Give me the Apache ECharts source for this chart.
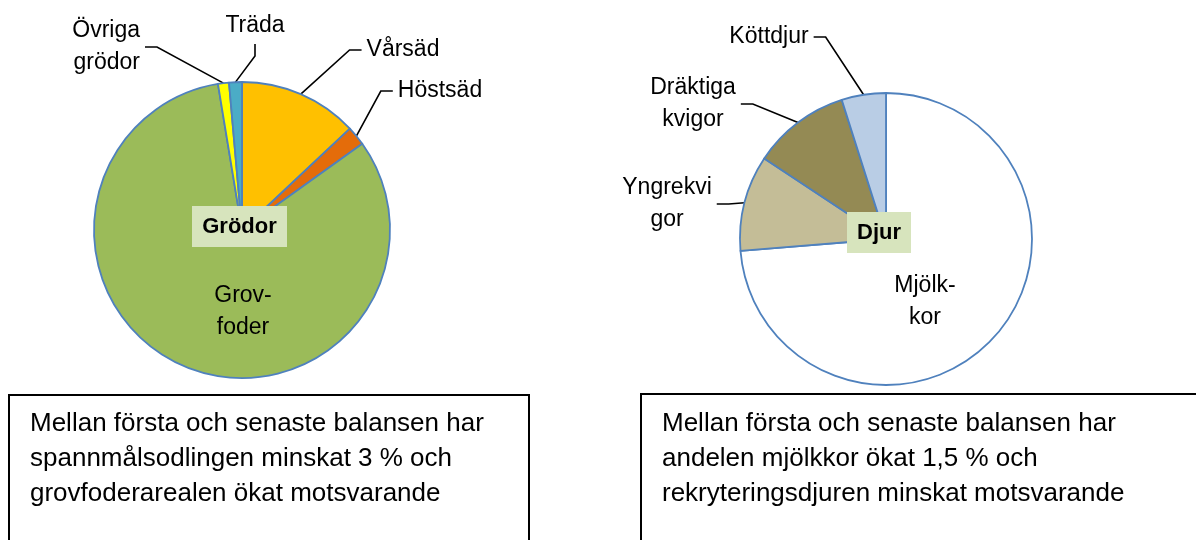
<!DOCTYPE html>
<html>
<head>
<meta charset="utf-8">
<script src="https://cdn.jsdelivr.net/npm/echarts@6/dist/echarts.min.js"></script>
<style>
html,body{margin:0;padding:0;background:#fff;}
#chart{width:1196px;height:540px;}
</style>
</head>
<body>
<div id="chart"></div>
<script>
// ---- Data ----
var cropCategories = ['Vårsäd', 'Höstsäd', 'Grovfoder', 'Övriga grödor', 'Träda'];
var cropLabels     = ['Vårsäd', 'Höstsäd', 'Grov-\nfoder', 'Övriga\ngrödor', 'Träda'];
var cropValues     = [13.0, 2.1, 82.3, 1.2, 1.4];

var animalCategories = ['Mjölkkor', 'Yngrekvigor', 'Dräktiga kvigor', 'Köttdjur'];
var animalLabels     = ['Mjölk-\nkor', 'Yngrekvi\ngor', 'Dräktiga\nkvigor', 'Köttdjur'];
var animalValues     = [73.7, 10.6, 10.8, 4.9];

var cropTitle = 'Grödor';
var animalTitle = 'Djur';
var cropNote = 'Mellan första och senaste balansen har\nspannmålsodlingen minskat 3 % och\ngrovfoderarealen ökat motsvarande';
var animalNote = 'Mellan första och senaste balansen har\nandelen mjölkkor ökat 1,5 % och\nrekryteringsdjuren minskat motsvarande';

// ---- Styles ----
var cropColors = ['#FFC000', '#E46C0A', '#9BBB59', '#FFFF00', '#4BACC6'];
var animalColors = ['#FFFFFF', '#C4BD97', '#948A54', '#B9CDE5'];
var insideNames = {'Grovfoder': true, 'Mjölkkor': true};
// label anchor positions [x, y, align]
var labelPos = {
  'Vårsäd': [403, 50, 'center'],
  'Höstsäd': [440, 91, 'center'],
  'Grovfoder': [243, 312, 'center'],
  'Övriga grödor': [145, 47, 'right'],
  'Träda': [255, 26, 'center'],
  'Mjölkkor': [925, 302, 'center'],
  'Yngrekvigor': [667, 204, 'center'],
  'Dräktiga kvigor': [693, 104, 'center'],
  'Köttdjur': [769, 37, 'center']
};
var FONT = '"Liberation Sans", Arial, sans-serif';

function buildData(cats, labels, vals, colors) {
  return cats.map(function (c, i) {
    var inside = !!insideNames[c];
    return {
      name: c,
      value: vals[i],
      itemStyle: {color: colors[i]},
      label: {position: inside ? 'inside' : 'outside', formatter: labels[i]},
      labelLine: {show: !inside}
    };
  });
}

function makeLayout(cats) {
  return function (params) {
    var p = labelPos[cats[params.dataIndex]];
    if (!p) return {};
    return {x: p[0], y: p[1], align: p[2], verticalAlign: 'middle'};
  };
}

function pieSeries(center, radius, cats, labels, vals, colors) {
  return {
    type: 'pie',
    center: center,
    radius: radius,
    startAngle: 90,
    clockwise: true,
    avoidLabelOverlap: false,
    silent: true,
    data: buildData(cats, labels, vals, colors),
    itemStyle: {borderColor: '#4F81BD', borderWidth: 1.8},
    label: {
      show: true,
      color: '#000',
      fontFamily: FONT,
      fontSize: 23,
      lineHeight: 32,
      align: 'center',
      padding: [2, 5]
    },
    labelLine: {
      show: true,
      length: 20,
      length2: 12,
      lineStyle: {color: '#000', width: 1.6}
    },
    labelLayout: makeLayout(cats),
    emphasis: {disabled: true}
  };
}

var chart = echarts.init(document.getElementById('chart'), null, {renderer: 'canvas'});
chart.setOption({
  animation: false,
  backgroundColor: '#ffffff',
  series: [
    pieSeries([242, 230], 148, cropCategories, cropLabels, cropValues, cropColors),
    pieSeries([886, 239], 146, animalCategories, animalLabels, animalValues, animalColors)
  ],
  graphic: [
    {type: 'rect', z: 100, shape: {x: 192, y: 206, width: 95, height: 41}, style: {fill: '#D7E4BD'}},
    {type: 'text', z: 101, x: 239.5, y: 226.5, style: {text: cropTitle, font: 'bold 22px ' + FONT, fill: '#000', align: 'center', verticalAlign: 'middle'}},
    {type: 'rect', z: 100, shape: {x: 847, y: 212, width: 64, height: 41}, style: {fill: '#D7E4BD'}},
    {type: 'text', z: 101, x: 879, y: 232.5, style: {text: animalTitle, font: 'bold 22px ' + FONT, fill: '#000', align: 'center', verticalAlign: 'middle'}},
    {type: 'rect', shape: {x: 9, y: 395, width: 520, height: 200}, style: {fill: 'none', stroke: '#000', lineWidth: 2}},
    {type: 'text', x: 30, y: 406, style: {text: cropNote, font: '26px ' + FONT, lineHeight: 35, fill: '#000', align: 'left', verticalAlign: 'top'}},
    {type: 'rect', shape: {x: 641, y: 394, width: 600, height: 200}, style: {fill: 'none', stroke: '#000', lineWidth: 2}},
    {type: 'text', x: 662, y: 406, style: {text: animalNote, font: '26px ' + FONT, lineHeight: 35, fill: '#000', align: 'left', verticalAlign: 'top'}}
  ]
});
</script>
</body>
</html>
